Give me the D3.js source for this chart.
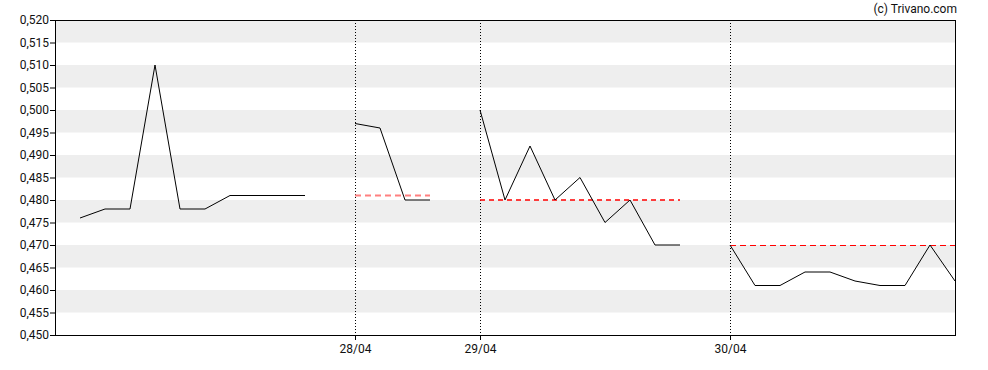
<!DOCTYPE html>
<html lang="en">
<head>
    <meta charset="UTF-8">
    <title>Trivano price chart</title>
    <style>
        body { margin: 0; background: #fff; }
        text { font-family: Roboto, "Noto Sans", sans-serif; font-size: 12px; fill: #111; }
        .band { fill: #eeeeee; }
        .price { fill: none; stroke: #000; stroke-width: 1px; }
        .day-line { stroke: #000; stroke-width: 1px; stroke-dasharray: 1,2; }
        .frame { fill: none; stroke: #000; stroke-width: 1px; }
    </style>
</head>
<body>
    <svg width="988" height="370"></svg>
    <script src="https://d3js.org/d3.v7.min.js"></script>
    <script>
        // Trading days: label, first slot index on the time axis, prices, day average
        const dayLabels = ["", "28/04", "29/04", "30/04"];
        const dayStart = [1, 12, 17, 27];
        const dayPrices = [
            [0.476, 0.478, 0.478, 0.510, 0.478, 0.478, 0.481, 0.481, 0.481, 0.481],
            [0.497, 0.496, 0.480, 0.480],
            [0.500, 0.480, 0.492, 0.480, 0.485, 0.475, 0.480, 0.470, 0.470],
            [0.470, 0.461, 0.461, 0.464, 0.464, 0.462, 0.461, 0.461, 0.470, 0.462]
        ];
        const dayAverage = [null, 0.481, 0.480, 0.470];
        const yTicks = d3.range(0.450, 0.5201, 0.005);

        const margin = { top: 20, right: 33, bottom: 35, left: 55 },
              width = 988 - margin.left - margin.right,
              height = 370 - margin.top - margin.bottom;

        const svg = d3.select("svg");
        const g = svg.append("g")
            .attr("transform", "translate(" + margin.left + "," + margin.top + ")");

        const x = d3.scaleLinear().domain([0, 36]).range([0, width]);
        const y = d3.scaleLinear().domain([0.450, 0.520]).range([height, 0]);
        const fmt = v => d3.format(".3f")(v).replace(".", ",");

        // alternating grey bands
        const bands = yTicks.filter((t, i) => i % 2 === 1);
        g.selectAll("rect.band")
            .data(bands)
            .enter().append("rect")
            .attr("class", "band")
            .attr("x", 0)
            .attr("width", width)
            .attr("y", d => y(d + 0.005))
            .attr("height", d => y(d) - y(d + 0.005));

        // day separators
        const days = dayLabels.map((label, i) => ({ label, start: dayStart[i], prices: dayPrices[i], avg: dayAverage[i] }));
        const labelled = days.filter(d => d.label);

        g.selectAll("line.day-line")
            .data(labelled)
            .enter().append("line")
            .attr("class", "day-line")
            .attr("x1", d => Math.round(x(d.start)) + 0.5)
            .attr("x2", d => Math.round(x(d.start)) + 0.5)
            .attr("y1", 0)
            .attr("y2", height);

        // average lines
        const avgStyles = [null,
            { color: "#ff8080", w: 2, dash: "6,4", off: 0 },
            { color: "#ff0000", w: 1.5, dash: "5,4", off: 0 },
            { color: "#ff0000", w: 1, dash: "6,4", off: 0.5 }];
        days.forEach((d, i) => {
            if (d.avg == null) return;
            const s = avgStyles[i];
            g.append("line")
                .attr("x1", x(d.start))
                .attr("x2", x(d.start + d.prices.length - 1))
                .attr("y1", y(d.avg) + s.off)
                .attr("y2", y(d.avg) + s.off)
                .attr("stroke", s.color)
                .attr("stroke-width", s.w)
                .attr("stroke-dasharray", s.dash);
        });

        // price lines
        const line = d3.line()
            .x(d => x(d.i))
            .y(d => y(d.v));
        g.selectAll("path.price")
            .data(days)
            .enter().append("path")
            .attr("class", "price")
            .attr("d", d => line(d.prices.map((v, k) => ({ i: d.start + k, v }))));

        // axes
        const yAxis = g.append("g")
            .call(d3.axisLeft(y).tickValues(yTicks).tickFormat(fmt).tickSize(5).tickSizeOuter(0));
        const xAxis = g.append("g")
            .attr("transform", "translate(0," + height + ")")
            .call(d3.axisBottom(x)
                .tickValues(labelled.map(d => d.start))
                .tickFormat((v, i) => labelled[i].label)
                .tickSize(5).tickSizeOuter(0));
        [yAxis, xAxis].forEach(a => {
            a.select(".domain").remove();
            a.selectAll("line").attr("stroke", "#000");
            a.selectAll("text").attr("fill", "#111").style("font-size", "12px");
        });
        yAxis.selectAll("text").attr("x", -6);
        xAxis.selectAll("text").attr("y", 9);

        g.append("rect")
            .attr("class", "frame")
            .attr("x", 0.5)
            .attr("y", 0.5)
            .attr("width", width)
            .attr("height", height);

        svg.append("text")
            .attr("x", 957)
            .attr("y", 13)
            .attr("text-anchor", "end")
            .text("(c) Trivano.com");
    </script>
</body>
</html>
